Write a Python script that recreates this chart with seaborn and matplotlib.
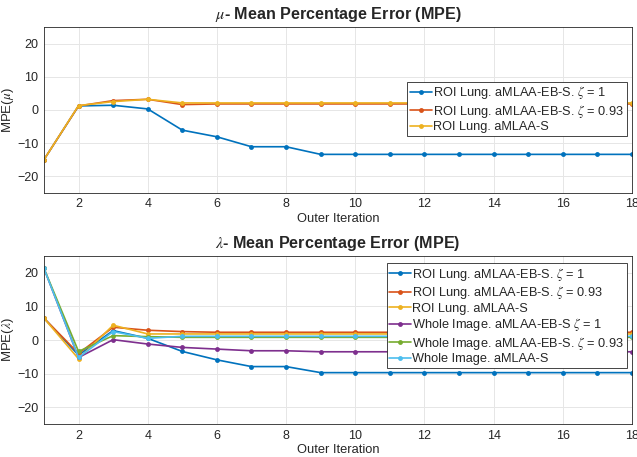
import matplotlib
matplotlib.use("Agg")
import matplotlib.pyplot as plt
import seaborn as sns
import pandas as pd

iters = list(range(1, 19))

# mu - MPE
mu_roi_eb1 = [-15, 1.2, 1.4, 0.3, -6.1, -8.1, -11.1, -11.1] + [-13.4] * 10
mu_roi_eb093 = [-15, 1.2, 2.8, 3.2, 1.6] + [1.8] * 13
mu_roi_s = [-15, 1.3, 2.5, 3.2, 2.1] + [2.1] * 13

# lambda - MPE
lam_roi_eb1 = [6.5, -4.5, 2.8, 0.5, -3.4, -5.9, -7.9, -7.9] + [-9.7] * 10
lam_roi_eb093 = [6.5, -4.0, 3.8, 2.9, 2.5] + [2.3] * 13
lam_roi_s = [6.5, -5.6, 4.4, 1.8, 1.8] + [1.8] * 13
lam_whole_eb1 = [21.3, -5.2, 0.1, -1.2, -2.2, -2.7, -3.2, -3.2] + [-3.5] * 10
lam_whole_eb093 = [21.3, -3.4, 1.3, 1.0, 0.8] + [0.8] * 13
lam_whole_s = [21.3, -5.2, 2.5, 0.5, 1.1] + [1.1] * 13

labels = [
    r"ROI Lung. aMLAA-EB-S. $\zeta$ = 1",
    r"ROI Lung. aMLAA-EB-S. $\zeta$ = 0.93",
    "ROI Lung. aMLAA-S",
    r"Whole Image. aMLAA-EB-S $\zeta$ = 1",
    r"Whole Image. aMLAA-EB-S. $\zeta$ = 0.93",
    "Whole Image. aMLAA-S",
]
cores = ["#0072BD", "#D95319", "#EDB120", "#7E2F8E", "#77AC30", "#4DBEEE"]

sns.set_style("white")
plt.rcParams["font.family"] = ["Liberation Sans", "DejaVu Sans"]
plt.rcParams["mathtext.fontset"] = "stix"


def monta_df(series):
    linhas = []
    for lab, vals in series:
        for x, y in zip(iters, vals):
            linhas.append({"iter": x, "mpe": y, "serie": lab})
    return pd.DataFrame(linhas)


def desenha(ax, df, nomes, titulo, ylabel, legend_kw):
    pal = dict(zip(nomes, cores[:len(nomes)]))
    sns.lineplot(data=df, x="iter", y="mpe", hue="serie", hue_order=nomes, palette=pal,
                 marker="o", markersize=3.5, markeredgewidth=0, linewidth=1.2, ax=ax)
    ax.set_xlim(1, 18)
    ax.set_ylim(-25, 25)
    ax.set_xticks(range(2, 19, 2))
    ax.set_yticks([-20, -10, 0, 10, 20])
    ax.grid(True, color="#e6e6e6", linewidth=0.7)
    ax.set_title(titulo, fontsize=11.6, fontweight="bold", pad=6)
    ax.set_xlabel("Outer Iteration", fontsize=9.3, color="#262626", labelpad=2)
    ax.set_ylabel(ylabel, fontsize=9.5, color="#262626", labelpad=1)
    ax.tick_params(labelsize=9, colors="#262626", length=3, direction="in", pad=4)
    for s in ax.spines.values():
        s.set_color("#262626")
        s.set_linewidth(0.6)
    ax.legend(title=None, fontsize=9.2, frameon=True, fancybox=False, edgecolor="#262626",
              framealpha=1, handlelength=1.7, handletextpad=0.1, borderpad=0.2,
              labelspacing=0.12, borderaxespad=0, **legend_kw)
    ax.get_legend().get_frame().set_linewidth(0.6)


fig = plt.figure(figsize=(6.37, 4.57), dpi=100)
ax1 = fig.add_axes([0.069, 0.578, 0.923, 0.363])
ax2 = fig.add_axes([0.069, 0.072, 0.923, 0.368])

df_mu = monta_df(zip(labels[:3], [mu_roi_eb1, mu_roi_eb093, mu_roi_s]))
desenha(ax1, df_mu, labels[:3], r"$\mu$- Mean Percentage Error (MPE)", r"MPE($\mu$)",
        dict(loc="center right", bbox_to_anchor=(0.991, 0.506)))

df_lam = monta_df(zip(labels, [lam_roi_eb1, lam_roi_eb093, lam_roi_s,
                               lam_whole_eb1, lam_whole_eb093, lam_whole_s]))
desenha(ax2, df_lam, labels, r"$\lambda$- Mean Percentage Error (MPE)", r"MPE($\lambda$)",
        dict(loc="upper right", bbox_to_anchor=(0.991, 0.958)))

fig.savefig("out.png", dpi=100)
